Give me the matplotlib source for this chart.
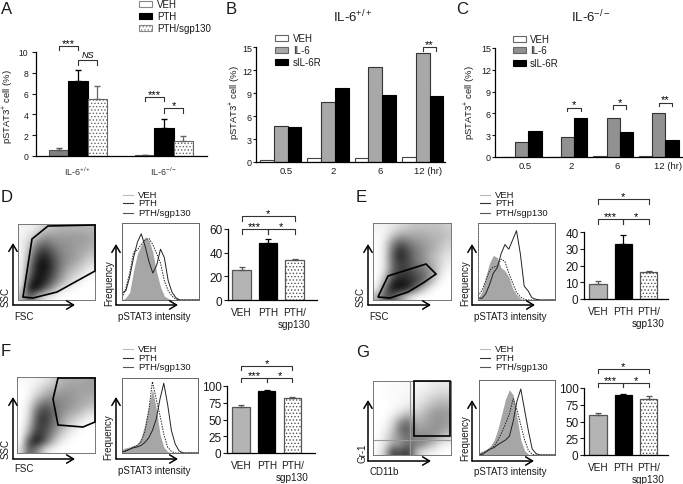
import matplotlib
matplotlib.use("Agg")
import matplotlib.pyplot as plt
import numpy as np
from matplotlib.patches import Polygon, Rectangle

plt.rcParams["font.family"] = ["Liberation Sans", "DejaVu Sans"]
plt.rcParams["mathtext.fontset"] = "custom"
plt.rcParams["mathtext.rm"] = "Liberation Sans"
plt.rcParams["mathtext.default"] = "regular"
plt.rcParams["hatch.linewidth"] = 0.6

W, H = 683, 485

# panel A
A_VEH = [0.6, 0.05]
A_PTH = [7.2, 2.7]
A_SGP = [5.5, 1.4]
A_VEH_ERR = [0.2, 0.03]
A_PTH_ERR = [1.05, 0.9]
A_SGP_ERR = [1.2, 0.5]

# panels B, C
TIME_LABELS = ["0.5", "2", "6", "12 (hr)"]
B_VEH = [0.2, 0.5, 0.5, 0.6]
B_IL6 = [4.7, 7.8, 12.4, 14.2]
B_SIL = [4.6, 9.6, 8.8, 8.6]
C_VEH = [0.0, 0.0, 0.1, 0.1]
C_IL6 = [2.0, 2.7, 5.4, 6.1]
C_SIL = [3.6, 5.3, 3.4, 2.4]

# panels D-G bar values (VEH, PTH, PTH/sgp130)
BAR_LABELS = ["VEH", "PTH", "PTH/\nsgp130"]
D_VALS, D_ERRS = [25.5, 48, 33.5], [2.5, 3.5, 1.5]
E_VALS, E_ERRS = [9, 33, 16], [2, 5.5, 0.8]
F_VALS, F_ERRS = [68, 92, 82], [3.5, 1.5, 1]
G_VALS, G_ERRS = [60, 89, 84], [2.5, 2, 3.5]

# histograms, read every 5 % across the box, as a fraction of box height
D_H_VEH = [0, .03, .1, .38, .6, .71, .82, .78, .62, .36, .17, .05, .02, 0, 0, 0, 0, 0, 0, 0, 0]
D_H_PTH = [.09, .12, .3, .55, .75, .86, .7, .5, .35, .45, .66, .55, .25, .1, .03, 0, 0, 0, 0, 0, 0]
D_H_SGP = [.03, .15, .35, .62, .65, .72, .78, .8, .72, .6, .48, .25, .12, .05, .01, 0, 0, 0, 0, 0, 0]
E_H_VEH = [.02, .1, .3, .48, .58, .55, .42, .38, .3, .15, .07, .02, 0, 0, 0, 0, 0, 0, 0, 0, 0]
E_H_PTH = [.03, .02, .08, .2, .35, .42, .6, .72, .66, .78, .9, .6, .18, .12, .03, .01, 0, 0, 0, 0, 0]
E_H_SGP = [.05, .12, .25, .38, .43, .44, .53, .5, .35, .22, .1, .04, .01, 0, 0, 0, 0, 0, 0, 0, 0]
F_H_VEH = [.05, .07, .08, .1, .12, .2, .38, .62, .85, .6, .25, .08, .02, 0, 0, 0, 0, 0, 0, 0, 0]
F_H_PTH = [.01, .03, .05, .07, .08, .1, .14, .2, .3, .45, .72, .93, .65, .3, .12, .03, 0, 0, 0, 0, 0]
F_H_SGP = [.02, .02, .05, .08, .1, .15, .28, .55, .95, .72, .5, .25, .08, .02, 0, 0, 0, 0, 0, 0, 0]
G_H_VEH = [.03, .05, .08, .12, .2, .35, .55, .75, .87, .8, .5, .2, .06, .01, 0, 0, 0, 0, 0, 0, 0]
G_H_PTH = [0, .01, .05, .08, .1, .14, .17, .2, .25, .45, .72, .88, .6, .32, .08, .02, 0, 0, 0, 0, 0]
G_H_SGP = [.01, .03, .05, .08, .12, .2, .3, .42, .55, .75, .6, .4, .2, .06, .01, 0, 0, 0, 0, 0, 0]
HIST_POS = [i * 0.05 for i in range(21)]

# dot plot density, estimated on a coarse grid (top row first)
D_DENS = [
    [.05, .05, .1, .2, .25, .3, .3, .3, .3, .3],
    [.05, .1, .25, .4, .4, .4, .4, .4, .4, .35],
    [.05, .2, .5, .6, .5, .45, .45, .4, .4, .35],
    [.03, .3, .7, .8, .65, .5, .45, .4, .35, .3],
    [.03, .4, .85, .95, .75, .55, .45, .4, .3, .2],
    [.03, .5, .95, 1, .8, .55, .4, .3, .2, .1],
    [.03, .6, .95, .95, .75, .5, .3, .2, .1, .03],
    [.03, .8, 1, .9, .65, .4, .2, .1, .03, 0],
    [.1, 1, 1, .7, .4, .15, .05, .02, 0, 0],
    [.3, .7, .3, .1, .05, 0, 0, 0, 0, 0],
]
E_DENS = [
    [.05, .05, .1, .15, .2, .25, .25, .25, .25, .2],
    [.02, .05, .2, .35, .35, .35, .35, .3, .3, .25],
    [0, .1, .45, .65, .55, .45, .4, .35, .3, .2],
    [0, .1, .6, .9, .7, .55, .45, .35, .25, .15],
    [0, .1, .65, .9, .75, .55, .45, .3, .2, .1],
    [0, .1, .6, .8, .75, .6, .5, .35, .2, .05],
    [0, .15, .65, .8, .8, .7, .6, .45, .15, .02],
    [0, .3, .85, .95, .9, .8, .65, .3, .05, 0],
    [.02, .6, 1, 1, .95, .6, .25, .05, 0, 0],
    [.3, .7, .7, .4, .15, .02, 0, 0, 0, 0],
]
F_DENS = [
    [.03, .03, .05, .1, .15, .3, .35, .35, .35, .4],
    [0, .03, .1, .2, .3, .35, .4, .4, .4, .4],
    [0, .03, .2, .35, .45, .45, .45, .4, .35, .35],
    [0, .08, .4, .6, .55, .5, .45, .4, .35, .3],
    [0, .12, .6, .8, .65, .5, .4, .35, .25, .15],
    [0, .15, .7, .85, .65, .45, .3, .2, .1, .03],
    [0, .25, .75, .8, .6, .4, .2, .1, .02, 0],
    [0, .4, .85, .75, .5, .25, .1, .02, 0, 0],
    [0, .75, 1, .7, .35, .1, .02, 0, 0, 0],
    [.1, .7, .5, .15, .03, 0, 0, 0, 0, 0],
]
G_DENS = [
    [0, 0, .02, .02, .03, .03, .05, .08, .1, .1],
    [0, .02, .02, .02, .03, .05, .08, .12, .15, .15],
    [0, 0, .02, .03, .05, .08, .12, .2, .25, .25],
    [0, 0, .02, .05, .1, .12, .2, .3, .35, .35],
    [0, 0, .05, .15, .3, .2, .3, .4, .45, .4],
    [0, .02, .15, .45, .6, .3, .35, .4, .45, .4],
    [0, .05, .2, .6, .7, .4, .4, .45, .45, .35],
    [0, .1, .3, .5, .6, .45, .5, .45, .35, .2],
    [.02, .1, .35, .4, .6, .55, .5, .3, .12, .05],
    [.02, .2, .8, .7, .85, .3, .1, .05, .02, 0],
]

# gates, in picture pixels
D_GATE = [(23, 298), (32, 240), (48, 227), (95, 226), (95, 272), (57, 293), (33, 299)]
E_GATE = [(378, 298), (388, 277), (426, 265), (436, 275), (423, 284), (408, 293), (390, 299)]
F_GATE = [(58, 379), (95, 379), (95, 423), (83, 428), (58, 426), (53, 400)]

fig = plt.figure(figsize=(W / 100, H / 100), dpi=100)


def make_axes(x0, y0, x1, y1, **kw):
    return fig.add_axes([x0 / W, 1 - y1 / H, (x1 - x0) / W, (y1 - y0) / H], **kw)


ov = make_axes(0, 0, W, H, zorder=10)
ov.set_xlim(0, W)
ov.set_ylim(H, 0)
ov.axis("off")
ov.patch.set_alpha(0)


def label(x, y, s, size=7, **kw):
    kw.setdefault("ha", "left")
    kw.setdefault("va", "center")
    ov.text(x, y, s, fontsize=size, color="#1a1a1a", **kw)


def swatch(x, y, w, face, edge, hatch=None):
    ov.add_patch(Rectangle((x, y - 3), w, 6, facecolor=face, edgecolor=edge, lw=0.8, hatch=hatch))


def bracket(ax, x0, x1, y, leg, s, italic=False):
    ax.plot([x0, x0, x1, x1], [y - leg, y, y, y - leg], color="#333333", lw=0.8, clip_on=False)
    ax.annotate(s, xy=((x0 + x1) / 2, y), xytext=(0, 4.5 if italic else 2.2), textcoords="offset points",
                ha="center", va="center", fontsize=6.5 if italic else 8,
                style="italic" if italic else "normal", annotation_clip=False)


def style_axes(ax, size, tick_len, pad):
    for side in ["top", "right"]:
        ax.spines[side].set_visible(False)
    ax.spines["left"].set_linewidth(0.9)
    ax.spines["bottom"].set_linewidth(0.9)
    ax.tick_params(axis="y", labelsize=size, length=tick_len, width=0.8, pad=pad, colors="#1a1a1a")
    ax.tick_params(axis="x", length=0)
    ax.patch.set_alpha(0)


def time_panel(rect, first_px, step_px, bar_px, veh, il6, sil, gray, tick_shift):
    ax = make_axes(*rect)
    style_axes(ax, 6.5, 2, 1)
    x = np.arange(len(veh))
    w = bar_px / step_px
    ax.bar(x - w, veh, w, color="white", edgecolor="#444444", linewidth=0.8)
    ax.bar(x, il6, w, color=gray, edgecolor="#333333", linewidth=0.8)
    ax.bar(x + w, sil, w, color="black", edgecolor="black", linewidth=0.8)
    ax.set_xlim((rect[0] - first_px) / step_px, (rect[2] - first_px) / step_px)
    ax.set_ylim(0, 15)
    ax.set_yticks([0, 3, 6, 9, 12, 15])
    ax.set_xticks(x + np.array(tick_shift))
    ax.set_xticklabels(TIME_LABELS, fontsize=6.8, color="#1a1a1a")
    ax.tick_params(axis="x", pad=3)
    return ax, x, w


def stat_panel(rect, first_px, step_px, ymax, ticks, vals, errs, labels_pad, brackets):
    ax = make_axes(*rect)
    style_axes(ax, 8.5, 3, 1)
    x = np.arange(3)
    faces = ["#b4b4b4", "black", "white"]
    edges = ["#555555", "black", "#555555"]
    hatches = [None, None, "....."]
    for i in x:
        ax.bar(i, vals[i], 0.68, color=faces[i], edgecolor=edges[i], linewidth=0.9, hatch=hatches[i])
        ax.errorbar(i, vals[i], yerr=[[0], [errs[i]]], color=edges[i] if i != 1 else "black",
                    capsize=2.5, lw=0.9, capthick=0.9)
    ax.set_xlim((rect[0] - first_px) / step_px, (rect[2] - first_px) / step_px)
    ax.set_ylim(0, ymax)
    ax.set_yticks(ticks)
    ax.set_xticks(x)
    ax.set_xticklabels(BAR_LABELS, fontsize=7.2, color="#1a1a1a", linespacing=1.3)
    ax.tick_params(axis="x", pad=labels_pad)
    y1, leg1, y2, leg2 = brackets
    bracket(ax, 0, 1, y1, leg1, "***")
    bracket(ax, 1, 2, y1, leg1, "*")
    bracket(ax, 0, 2, y2, leg2, "*")


def dot_panel(box, density):
    ax = make_axes(*box)
    ax.imshow(density, cmap="gray_r", vmin=0, vmax=1.05, aspect="auto", interpolation="bicubic")
    ax.set_xticks([])
    ax.set_yticks([])
    for s in ax.spines.values():
        s.set_linewidth(0.7)
        s.set_color("#777777")
    return ax


def hist_panel(box, veh, pth, sgp):
    ax = make_axes(*box)
    ax.fill_between(HIST_POS, veh, color="#a6a6a6", lw=0)
    ax.plot(HIST_POS, pth, color="#222222", lw=0.7)
    ax.plot(HIST_POS, sgp, color="#222222", lw=0.7, ls=(0, (1.5, 1.2)))
    ax.set_xlim(0, 1)
    ax.set_ylim(0, 1)
    ax.set_xticks([])
    ax.set_yticks([])
    for s in ax.spines.values():
        s.set_linewidth(0.7)
        s.set_color("#666666")
    return ax


def corner_arrows(x, y, top, right):
    style = dict(arrowstyle="->,head_width=0.3,head_length=0.5", lw=1.1, color="black", shrinkA=0, shrinkB=0)
    ov.annotate("", xy=(x, top), xytext=(x, y), arrowprops=style)
    ov.annotate("", xy=(right, y), xytext=(x, y), arrowprops=style)


def hist_legend(x, ys):
    names = ["VEH", "PTH", "PTH/sgp130"]
    colors = ["#bbbbbb", "#333333", "#555555"]
    for y, name, c in zip(ys, names, colors):
        ov.plot([x, x + 10], [y, y], color=c, lw=0.8)
        label(x + 15, y, name, 6.8)


# A
ax_a = make_axes(36, 53, 207, 157)
style_axes(ax_a, 6.2, 3, 2.5)
a_x = np.array([0, 4.45])
a_w = 1.0
for off, vals, errs, face, edge, hatch in [
    (-1, A_VEH, A_VEH_ERR, "#808080", "#555555", None),
    (0, A_PTH, A_PTH_ERR, "black", "black", None),
    (1, A_SGP, A_SGP_ERR, "white", "#666666", "....."),
]:
    ax_a.bar(a_x + off, vals, a_w, color=face, edgecolor=edge, linewidth=0.8, hatch=hatch)
    ax_a.errorbar(a_x + off, vals, yerr=[[0, 0], errs], fmt="none", ecolor=edge, capsize=2.5, lw=0.9)
ax_a.set_xlim(-2.18, 6.68)
ax_a.set_ylim(0, 10)
ax_a.set_yticks([0, 2, 4, 6, 8, 10])
ax_a.set_xticks(a_x)
ax_a.set_xticklabels(["IL-6$^{+/+}$", "IL-6$^{-/-}$"], fontsize=6.4, color="#333333")
ax_a.tick_params(axis="x", pad=6)
bracket(ax_a, -1, 0, 10.6, 0.4, "***")
bracket(ax_a, 0, 1, 9.2, 0.45, "NS", italic=True)
bracket(ax_a, 3.45, 4.45, 5.7, 0.4, "***")
bracket(ax_a, 4.45, 5.45, 4.6, 0.45, "*")

label(1, 9, "A", 12)
swatch(139, 5, 13, "white", "#888888")
swatch(139, 17, 13, "black", "black")
swatch(139, 29, 13, "white", "#888888", ".....")
label(157, 5, "VEH")
label(157, 17, "PTH")
label(157, 29, "PTH/sgp130")
label(8, 107, "pSTAT3$^{+}$ cell (%)", 6.8, rotation=90, ha="center")

# B
ax_b, bx, bw = time_panel((256, 48, 445, 163), 280.7, 47.3, 13.8, B_VEH, B_IL6, B_SIL, "#a8a8a8",
                          [0.11, 0.11, 0.11, 0.11])
bracket(ax_b, 3, 3 + bw, 15.0, 0.5, "**")
label(226, 9, "B", 12)
label(353, 17, "IL-6$^{+/+}$", 9.5, ha="center")
swatch(275, 39, 13, "white", "#666666")
swatch(275, 51, 13, "#a8a8a8", "#666666")
swatch(275, 63, 13, "black", "black")
label(293, 39, "VEH")
label(293, 51, "IL-6")
label(293, 63, "sIL-6R")
label(235, 103, "pSTAT3$^{+}$ cell (%)", 6.8, rotation=90, ha="center")

# C
ax_c, cx, cw = time_panel((495, 49, 683, 158), 521.7, 45.7, 13.2, C_VEH, C_IL6, C_SIL, "#919191",
                          [0.08, 0.08, 0.08, 0.2])
for i, s, y in [(1, "*", 6.8), (2, "*", 7.1), (3, "**", 7.5)]:
    bracket(ax_c, i, i + cw, y, 0.5, s)
label(456, 9, "C", 12)
label(591, 17, "IL-6$^{-/-}$", 9.5, ha="center")
swatch(513, 40, 13, "white", "#666666")
swatch(513, 51, 13, "#919191", "#666666")
swatch(513, 64, 13, "black", "black")
label(530, 40, "VEH")
label(530, 51, "IL-6")
label(530, 64, "sIL-6R")
label(470, 103, "pSTAT3$^{+}$ cell (%)", 6.8, rotation=90, ha="center")

# D
dot_panel((18, 225, 95, 301), D_DENS)
ov.add_patch(Polygon(D_GATE, closed=True, fill=False, edgecolor="black", lw=1.2))
corner_arrows(13, 306, 244, 75)
label(6, 297, "SSC", rotation=90, ha="center")
label(14, 317, "FSC")
hist_panel((122, 224, 199, 301), D_H_VEH, D_H_PTH, D_H_SGP)
corner_arrows(116, 306, 245, 178)
label(109, 283, "Frequency", rotation=90, ha="center")
label(154, 317, "pSTAT3 intensity", ha="center")
hist_legend(123, [196, 204, 214])
stat_panel((228, 230, 317, 301), 241.5, 26.5, 60, [0, 20, 40, 60], D_VALS, D_ERRS, 5, (60, 4.5, 71, 4))
label(1, 198, "D", 12)

# E
dot_panel((373, 224, 451, 301), E_DENS)
ov.add_patch(Polygon(E_GATE, closed=True, fill=False, edgecolor="black", lw=1.2))
corner_arrows(368, 306, 245, 431)
label(361, 297, "SSC", rotation=90, ha="center")
label(369, 317, "FSC")
ax_eh = hist_panel((478, 224, 555, 301), E_H_VEH, E_H_PTH, E_H_SGP)
ax_eh.spines["left"].set_linestyle((0, (1.5, 1.2)))
corner_arrows(472, 306, 245, 535)
label(465, 283, "Frequency", rotation=90, ha="center")
label(510, 317, "pSTAT3 intensity", ha="center")
hist_legend(480, [196, 204, 214])
stat_panel((584, 233, 668, 300), 598, 25.3, 40, [0, 10, 20, 30, 40], E_VALS, E_ERRS, 5, (47.5, 2.5, 59.5, 2.5))
label(356, 198, "E", 12)

# F
dot_panel((17, 378, 95, 454), F_DENS)
ov.add_patch(Polygon(F_GATE, closed=True, fill=False, edgecolor="black", lw=1.2))
corner_arrows(13, 460, 398, 75)
label(6, 449, "SSC", rotation=90, ha="center")
label(14, 469, "FSC")
hist_panel((122, 379, 198, 454), F_H_VEH, F_H_PTH, F_H_SGP)
corner_arrows(116, 460, 398, 178)
label(108, 437, "Frequency", rotation=90, ha="center")
label(154, 471, "pSTAT3 intensity", ha="center")
hist_legend(123, [350, 359, 368])
stat_panel((227, 387, 315, 454), 241, 25.7, 100, [0, 25, 50, 75, 100], F_VALS, F_ERRS, 5, (112, 6.5, 130, 6.5))
label(1, 352, "F", 12)

# G
ax_g = dot_panel((373, 382, 451, 456), G_DENS)
ax_g.axhline(7.45, color="#999999", lw=0.8)
ax_g.axvline(4.2, color="#999999", lw=0.8)
ov.add_patch(Rectangle((414, 382), 36, 55, fill=False, edgecolor="black", lw=1.2))
corner_arrows(368, 462, 401, 431)
label(362, 453, "Gr-1", rotation=90, ha="center")
label(384, 472, "CD11b", ha="center")
hist_panel((479, 381, 555, 456), G_H_VEH, G_H_PTH, G_H_SGP)
corner_arrows(472, 462, 401, 534)
label(465, 438, "Frequency", rotation=90, ha="center")
label(510, 472, "pSTAT3 intensity", ha="center")
hist_legend(480, [350, 359, 368])
stat_panel((584, 389, 668, 456), 598, 25.3, 100, [0, 25, 50, 75, 100], G_VALS, G_ERRS, 5, (108, 6, 128, 6))
label(356, 353, "G", 12)

fig.savefig("out.png", dpi=100)
